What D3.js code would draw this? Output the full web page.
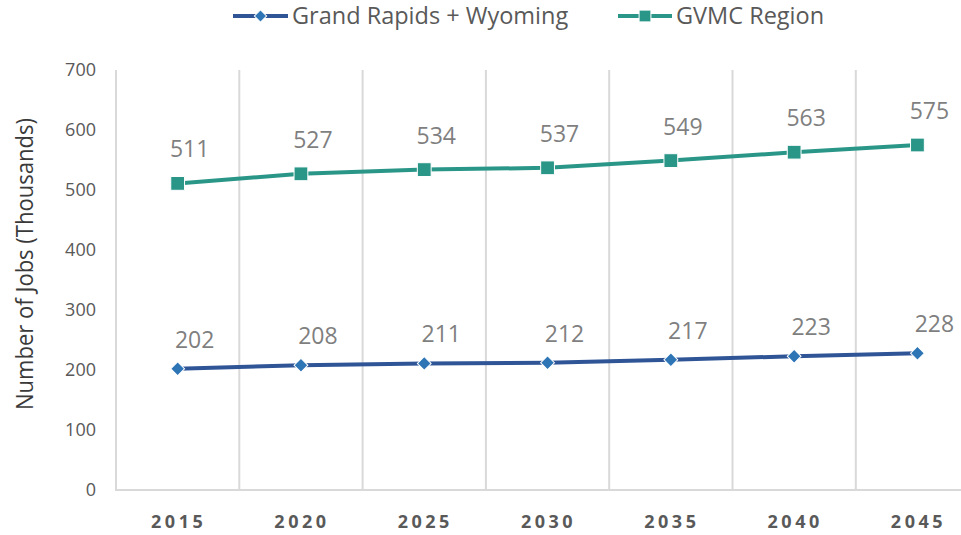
<!DOCTYPE html>
<html>
<head>
<meta charset="utf-8">
<script src="https://cdn.jsdelivr.net/npm/d3@7"></script>
<style>
  body { margin: 0; background: #fff; }
  svg { display: block; font-family: "Open Sans", sans-serif; }
</style>
</head>
<body>
<svg id="chart" width="961" height="535"></svg>
<script>
// chart data
const years = ["2015", "2020", "2025", "2030", "2035", "2040", "2045"];
const grandRapids = [202, 208, 211, 212, 217, 223, 228];
const gvmcRegion = [511, 527, 534, 537, 549, 563, 575];
const yTicks = [0, 100, 200, 300, 400, 500, 600, 700];

const series = [
  { name: "Grand Rapids + Wyoming", values: grandRapids, line: "#2F5597", marker: "#2E75B6",
    symbol: d3.symbolSquare, size: 95, rotate: 45, labelDx: 17, labelDy: -21 },
  { name: "GVMC Region", values: gvmcRegion, line: "#2A9688", marker: "#2A9688",
    symbol: d3.symbolSquare, size: 190, rotate: 0, labelDx: 12, labelDy: -26 }
];

const svg = d3.select("#chart");
const margin = { left: 116, top: 70, bottom: 490 };
const bandW = 123.3;

const x = d3.scaleBand().domain(years).range([margin.left, margin.left + bandW * years.length]);
const y = d3.scaleLinear().domain([0, 700]).range([margin.bottom, margin.top]);

// vertical gridlines between categories
svg.append("g").selectAll("line")
  .data(years.slice(1))
  .join("line")
  .attr("x1", d => x(d)).attr("x2", d => x(d))
  .attr("y1", y(700)).attr("y2", y(0))
  .attr("stroke", "#d9d9d9").attr("stroke-width", 2);

// left axis line
svg.append("line")
  .attr("x1", margin.left).attr("x2", margin.left)
  .attr("y1", y(700)).attr("y2", y(0))
  .attr("stroke", "#d9d9d9").attr("stroke-width", 2);

// bottom axis line
svg.append("line")
  .attr("x1", margin.left - 1).attr("x2", 961)
  .attr("y1", y(0)).attr("y2", y(0))
  .attr("stroke", "#d9d9d9").attr("stroke-width", 2);

// y tick labels
svg.append("g").selectAll("text")
  .data(yTicks)
  .join("text")
  .attr("x", 96)
  .attr("y", d => y(d))
  .attr("dy", "0.35em")
  .attr("text-anchor", "end")
  .attr("fill", "#595959")
  .style("font-size", "18px")
  .text(d => d);

// x labels
svg.append("g").selectAll("text")
  .data(years)
  .join("text")
  .attr("x", d => x(d) + x.bandwidth() / 2 + 1)
  .attr("y", 528)
  .attr("text-anchor", "middle")
  .attr("fill", "#595959")
  .style("font-size", "18px")
  .style("font-weight", "bold")
  .style("letter-spacing", "3.5px")
  .text(d => d);

// y axis title (condensed look)
svg.append("text")
  .attr("transform", "translate(33, 264) rotate(-90)")
  .attr("text-anchor", "middle")
  .attr("fill", "#3a3a3a")
  .attr("textLength", 292)
  .attr("lengthAdjust", "spacingAndGlyphs")
  .style("font-family", "'Liberation Sans Narrow', 'Open Sans', sans-serif")
  .style("font-size", "23px")
  .text("Number of Jobs (Thousands)");

const cx = d => x(d) + x.bandwidth() / 2;
const line = d3.line()
  .x((d, i) => cx(years[i]))
  .y(d => y(d));

series.forEach(s => {
  svg.append("path")
    .datum(s.values)
    .attr("d", line)
    .attr("fill", "none")
    .attr("stroke", s.line)
    .attr("stroke-width", 4);

  svg.append("g").selectAll("path")
    .data(s.values)
    .join("path")
    .attr("transform", (d, i) => `translate(${cx(years[i])},${y(d)}) rotate(${s.rotate})`)
    .attr("d", d3.symbol().type(s.symbol).size(s.size))
    .attr("fill", s.marker)
    .attr("stroke", "#fff")
    .attr("stroke-width", 1);

  // data labels
  svg.append("g").selectAll("text")
    .data(s.values)
    .join("text")
    .attr("x", (d, i) => cx(years[i]) + s.labelDx)
    .attr("y", d => y(d) + s.labelDy)
    .attr("text-anchor", "middle")
    .attr("fill", "#7f7f7f")
    .style("font-size", "23px")
    .text(d => d);
});

// legend
const legendItems = [
  { s: series[0], x1: 233, tx: 292 },
  { s: series[1], x1: 618, tx: 676 }
];
legendItems.forEach(l => {
  const g = svg.append("g");
  g.append("line")
    .attr("x1", l.x1).attr("x2", l.tx - 4)
    .attr("y1", 16).attr("y2", 16)
    .attr("stroke", l.s.line).attr("stroke-width", 4);
  g.append("path")
    .attr("transform", `translate(${(l.x1 + l.tx - 4) / 2},16) rotate(${l.s.rotate})`)
    .attr("d", d3.symbol().type(l.s.symbol).size(l.s.rotate ? 75 : 140))
    .attr("fill", l.s.marker)
    .attr("stroke", "#fff");
  g.append("text")
    .attr("x", l.tx)
    .attr("y", 24)
    .attr("fill", "#595959")
    .style("font-size", "23.5px")
    .text(l.s.name);
});
</script>
</body>
</html>
